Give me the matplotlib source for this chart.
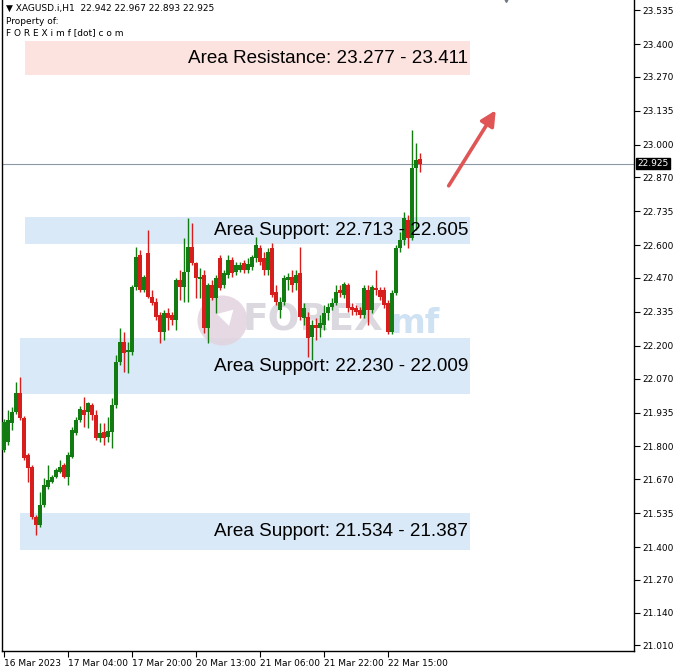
import numpy as np
import matplotlib.pyplot as plt
from matplotlib.patches import Rectangle

# XAGUSD H1 candles
opens = [21.786, 21.818, 21.893, 21.937, 22.012, 21.913, 21.766, 21.718, 21.519, 21.488,
         21.567, 21.639, 21.659, 21.678, 21.698, 21.726, 21.678, 21.758, 21.853, 21.905,
         21.945, 21.937, 21.965, 21.925, 21.833, 21.857, 21.837, 21.857, 21.965, 22.136,
         22.215, 22.175, 22.175, 22.434, 22.561, 22.422, 22.569, 22.394, 22.374, 22.323,
         22.255, 22.330, 22.323, 22.303, 22.462, 22.434, 22.494, 22.593, 22.529, 22.466,
         22.482, 22.271, 22.442, 22.390, 22.549, 22.442, 22.482, 22.541, 22.494, 22.502,
         22.529, 22.502, 22.513, 22.549, 22.589, 22.549, 22.502, 22.589, 22.414, 22.342,
         22.374, 22.462, 22.474, 22.450, 22.490, 22.311, 22.315, 22.235, 22.283, 22.271,
         22.283, 22.330, 22.354, 22.370, 22.422, 22.402, 22.442, 22.354, 22.350, 22.342,
         22.323, 22.422, 22.342, 22.430, 22.422, 22.422, 22.370, 22.255, 22.410, 22.589,
         22.621, 22.700, 22.629, 22.907, 22.942]
highs = [21.909, 21.945, 21.957, 22.056, 22.076, 21.921, 21.774, 21.726, 21.527, 21.619,
         21.674, 21.726, 21.686, 21.714, 21.746, 21.734, 21.778, 21.877, 21.917, 21.961,
         21.996, 21.977, 21.973, 21.945, 21.893, 21.893, 21.917, 21.993, 22.164, 22.271,
         22.255, 22.215, 22.442, 22.593, 22.581, 22.482, 22.660, 22.422, 22.390, 22.334,
         22.342, 22.350, 22.334, 22.470, 22.502, 22.629, 22.708, 22.688, 22.533, 22.509,
         22.502, 22.450, 22.462, 22.482, 22.561, 22.502, 22.561, 22.553, 22.533, 22.533,
         22.541, 22.549, 22.561, 22.633, 22.601, 22.573, 22.589, 22.609, 22.442, 22.394,
         22.482, 22.490, 22.502, 22.502, 22.593, 22.370, 22.334, 22.303, 22.311, 22.323,
         22.362, 22.370, 22.390, 22.442, 22.442, 22.454, 22.450, 22.370, 22.362, 22.354,
         22.442, 22.442, 22.442, 22.502, 22.434, 22.434, 22.382, 22.422, 22.601, 22.653,
         22.732, 22.720, 23.058, 23.006, 22.967]
lows = [21.778, 21.806, 21.865, 21.929, 21.905, 21.746, 21.659, 21.511, 21.448, 21.480,
        21.559, 21.631, 21.655, 21.674, 21.694, 21.674, 21.647, 21.754, 21.845, 21.897,
        21.877, 21.873, 21.905, 21.826, 21.818, 21.806, 21.818, 21.794, 21.953, 22.124,
        22.096, 22.092, 22.164, 22.422, 22.414, 22.414, 22.390, 22.362, 22.303, 22.211,
        22.223, 22.263, 22.283, 22.263, 22.382, 22.374, 22.374, 22.521, 22.390, 22.390,
        22.251, 22.211, 22.382, 22.330, 22.422, 22.430, 22.470, 22.474, 22.482, 22.494,
        22.490, 22.490, 22.502, 22.533, 22.521, 22.482, 22.482, 22.394, 22.362, 22.311,
        22.362, 22.422, 22.414, 22.422, 22.303, 22.283, 22.156, 22.144, 22.223, 22.235,
        22.263, 22.303, 22.342, 22.362, 22.394, 22.390, 22.334, 22.323, 22.323, 22.311,
        22.311, 22.283, 22.330, 22.402, 22.382, 22.350, 22.247, 22.247, 22.402, 22.573,
        22.601, 22.589, 22.621, 22.660, 22.893]
closes = [21.897, 21.905, 21.937, 22.012, 21.913, 21.754, 21.714, 21.519, 21.488, 21.567,
          21.647, 21.667, 21.678, 21.706, 21.718, 21.678, 21.766, 21.865, 21.905, 21.949,
          21.925, 21.973, 21.925, 21.833, 21.853, 21.833, 21.861, 21.965, 22.136, 22.215,
          22.171, 22.183, 22.434, 22.553, 22.422, 22.474, 22.394, 22.370, 22.315, 22.255,
          22.330, 22.311, 22.303, 22.462, 22.434, 22.494, 22.593, 22.529, 22.470, 22.474,
          22.271, 22.442, 22.390, 22.470, 22.430, 22.490, 22.541, 22.490, 22.521, 22.521,
          22.502, 22.525, 22.553, 22.601, 22.533, 22.502, 22.573, 22.402, 22.374, 22.374,
          22.470, 22.474, 22.442, 22.482, 22.315, 22.350, 22.231, 22.283, 22.271, 22.291,
          22.330, 22.354, 22.370, 22.414, 22.410, 22.446, 22.350, 22.342, 22.334, 22.323,
          22.430, 22.342, 22.434, 22.422, 22.394, 22.362, 22.255, 22.410, 22.589, 22.621,
          22.708, 22.629, 22.907, 22.939, 22.925]

time_tick_bars = [1, 17, 33, 49, 65, 81, 97]
time_tick_labels = ["16 Mar 2023", "17 Mar 04:00", "17 Mar 20:00", "20 Mar 13:00",
                    "21 Mar 06:00", "21 Mar 22:00", "22 Mar 15:00"]
price_ticks = [23.535, 23.400, 23.270, 23.135, 23.000, 22.870, 22.735, 22.600, 22.470, 22.335,
               22.200, 22.070, 21.935, 21.800, 21.670, 21.535, 21.400, 21.270, 21.140, 21.010]

# areas: low, high, label
res_low, res_high = 23.277, 23.411
sup_lows = [22.605, 22.009, 21.387]
sup_highs = [22.713, 22.230, 21.534]
sup_labels = ["Area Support: 22.713 - 22.605",
              "Area Support: 22.230 - 22.009",
              "Area Support: 21.534 - 21.387"]
sup_left = [6.25, 5.0, 5.0]
last_price = 22.925

green = "#127c12"
red = "#d81d1d"

fig = plt.figure(figsize=(6.75, 6.68), dpi=100)
ax = fig.add_axes([2 / 675, 17 / 668, 632 / 675, 651 / 668])
ax.set_xlim(0.5, 158.5)
ax.set_ylim(20.987, 23.575)

# zones
ax.add_patch(Rectangle((6.25, res_low), 111.25, res_high - res_low,
                       facecolor="#fde3e0", edgecolor="none", zorder=0))
ax.text(117, (res_low + res_high) / 2, "Area Resistance: 23.277 - 23.411",
        ha="right", va="center", fontsize=13.6, family="Liberation Sans", color="black", zorder=5)
for lo, hi, lab, xl in zip(sup_lows, sup_highs, sup_labels, sup_left):
    ax.add_patch(Rectangle((xl, lo), 117.5 - xl, hi - lo,
                           facecolor="#d9e9f8", edgecolor="none", zorder=0))
    ax.text(117, (lo + hi) / 2, lab, ha="right", va="center", fontsize=13.6,
            family="Liberation Sans", color="black", zorder=5)

# watermark
ax.plot([55.5], [22.303], marker="o", markersize=36, color="#e2d3df",
        markeredgewidth=0, alpha=0.85, zorder=1)
ax.plot([56.5], [22.318], marker=(3, 0, -45), markersize=14, color="white",
        markeredgewidth=0, zorder=1)
ax.text(60.5, 22.30, "FOREX", fontsize=27, fontweight="bold", color="#dcd8e0",
        va="center", ha="left", family="DejaVu Sans", zorder=1)
ax.text(97.5, 22.29, "mf", fontsize=24, fontweight="bold", color="#cfe2f3",
        va="center", ha="left", family="DejaVu Sans", zorder=1)

# candles
bars = np.arange(1, len(closes) + 1)
o = np.array(opens)
h = np.array(highs)
l = np.array(lows)
c = np.array(closes)
cols = np.where(c >= o, green, red)
ax.vlines(bars, l, h, colors=cols, linewidth=1, zorder=3)
body = np.maximum(np.abs(c - o), 0.004)
ax.bar(bars, body, bottom=np.minimum(o, c), width=0.8, color=cols, zorder=4, linewidth=0)

# last price line
ax.axhline(last_price, color="#8c98a4", linewidth=0.8, zorder=2)

# arrow
ax.annotate("", xy=(124.3, 23.146), xytext=(111.8, 22.827),
            arrowprops=dict(arrowstyle="-|>,head_length=0.9,head_width=0.45",
                            color="#e05555", linewidth=2.6), zorder=6)

# axes styling
ax.spines["top"].set_visible(False)
for side in ["left", "right", "bottom"]:
    ax.spines[side].set_color("black")
    ax.spines[side].set_linewidth(1)
ax.yaxis.tick_right()
ax.set_yticks(price_ticks)
ax.set_yticklabels([f"{v:.3f}" for v in price_ticks])
ax.tick_params(axis="y", length=4, labelsize=6.5, pad=2, colors="black")
ax.set_xticks(time_tick_bars)
ax.set_xticklabels(time_tick_labels)
ax.tick_params(axis="x", length=4, labelsize=6.5, pad=2, colors="black")
for lbl in ax.get_xticklabels():
    lbl.set_horizontalalignment("left")

# price tag
ax.text(1.006, last_price, "22.925", transform=ax.get_yaxis_transform(),
        ha="left", va="center", fontsize=6.5, color="white",
        bbox=dict(boxstyle="square,pad=0.15", facecolor="black", edgecolor="black"))

# header text
fig.text(6 / 675, 1 - 8 / 668, "\u25bc XAGUSD.i,H1  22.942 22.967 22.893 22.925",
         fontsize=6.5, va="center", ha="left")
fig.text(6 / 675, 1 - 21 / 668, "Property of:", fontsize=6.5, va="center", ha="left")
fig.text(6 / 675, 1 - 33 / 668, "F O R E X i m f [dot] c o m", fontsize=6.5,
         va="center", ha="left")

# shift marker
ax.plot([126.5], [23.578], marker="v", color="#6d7884", markersize=5, clip_on=True)

fig.savefig("out.png", dpi=100, facecolor="white")
